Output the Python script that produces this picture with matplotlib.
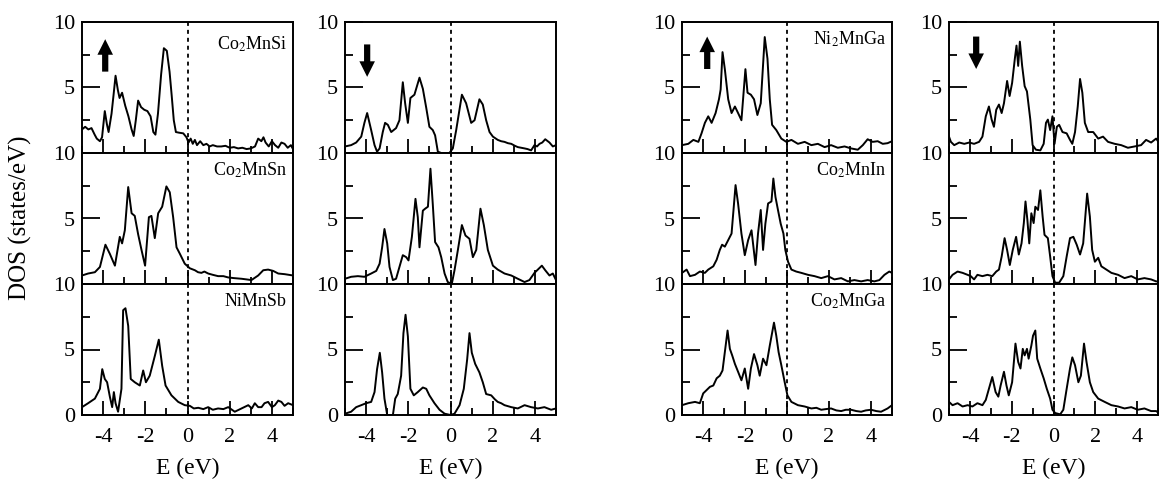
import matplotlib
matplotlib.use("Agg")
import matplotlib.pyplot as plt
from matplotlib.ticker import MultipleLocator
import numpy as np

plt.rcParams["font.family"] = "Liberation Serif"
plt.rcParams["mathtext.fontset"] = "stix"
plt.rcParams["axes.unicode_minus"] = False

# ======================================================
# Spin-resolved DOS, pairs of (E [eV], DOS [states/eV])
# ======================================================

# Co2MnSi
co2mnsi_up = [(-5.0, 1.8), (-4.85, 2.0), (-4.7, 1.8), (-4.55, 1.9), (-4.4, 1.4), (-4.3, 1.1),
              (-4.15, 0.9), (-4.05, 1.2), (-3.92, 3.2), (-3.82, 2.2), (-3.74, 1.6), (-3.6, 3.0),
              (-3.5, 4.5), (-3.41, 5.9), (-3.3, 4.8), (-3.22, 4.2), (-3.1, 4.6), (-2.95, 3.6),
              (-2.8, 2.8), (-2.65, 1.8), (-2.55, 1.3), (-2.45, 2.5), (-2.34, 4.0), (-2.2, 3.5),
              (-2.05, 3.3), (-1.9, 3.2), (-1.75, 2.8), (-1.62, 1.6), (-1.52, 1.4), (-1.4, 3.0),
              (-1.25, 6.0), (-1.12, 8.0), (-0.98, 7.8), (-0.85, 6.2), (-0.75, 4.4), (-0.65, 2.5),
              (-0.55, 1.6), (-0.4, 1.55), (-0.2, 1.5), (-0.05, 1.2), (0.05, 0.8), (0.15, 1.1),
              (0.25, 0.7), (0.35, 1.0), (0.45, 0.6), (0.6, 0.9), (0.75, 0.6), (0.9, 0.7),
              (1.05, 0.5), (1.2, 0.6), (1.4, 0.5), (1.6, 0.5), (1.8, 0.55), (2.0, 0.4),
              (2.2, 0.45), (2.4, 0.35), (2.6, 0.4), (2.8, 0.3), (3.0, 0.35), (3.2, 0.5),
              (3.35, 1.1), (3.5, 0.9), (3.6, 1.2), (3.7, 0.8), (3.85, 0.5), (4.0, 0.9),
              (4.15, 0.6), (4.3, 0.4), (4.45, 0.8), (4.6, 0.7), (4.75, 0.4), (4.9, 0.6), (5.0, 0.3)]
co2mnsi_dn = [(-5.0, 0.5), (-4.71, 0.6), (-4.47, 0.8), (-4.23, 1.25), (-4.08, 2.3), (-3.95, 3.05),
              (-3.76, 1.75), (-3.6, 0.6), (-3.48, 0.1), (-3.36, 0.35), (-3.21, 1.6), (-3.1, 2.3),
              (-2.97, 2.15), (-2.81, 1.6), (-2.58, 1.9), (-2.42, 2.5), (-2.26, 5.4), (-2.15, 3.8),
              (-2.02, 2.3), (-1.9, 4.2), (-1.71, 4.45), (-1.47, 5.75), (-1.31, 4.9), (-1.15, 3.45),
              (-1.0, 2.0), (-0.84, 1.75), (-0.73, 1.35), (-0.6, 0.1), (-0.44, 0.0), (-0.05, 0.0),
              (0.11, 0.35), (0.27, 1.75), (0.54, 4.45), (0.74, 3.8), (0.98, 2.3), (1.14, 2.5),
              (1.37, 4.1), (1.53, 3.7), (1.69, 2.5), (1.85, 1.6), (2.01, 1.25), (2.24, 1.0),
              (2.4, 0.9), (2.56, 0.85), (2.72, 0.75), (2.88, 0.7), (3.05, 0.55), (3.19, 0.45),
              (3.35, 0.4), (3.51, 0.35), (3.65, 0.3), (3.82, 0.2), (3.98, 0.6), (4.1, 0.5),
              (4.22, 0.7), (4.35, 0.8), (4.49, 1.05), (4.69, 0.8), (4.85, 0.5), (5.0, 0.6)]

# Co2MnSn
co2mnsn_up = [(-5.0, 0.65), (-4.71, 0.8), (-4.39, 0.9), (-4.15, 1.3), (-3.89, 3.0), (-3.68, 2.3),
              (-3.44, 1.4), (-3.21, 3.6), (-3.1, 3.1), (-2.97, 4.1), (-2.81, 7.4), (-2.65, 5.4),
              (-2.5, 5.2), (-2.34, 3.8), (-2.18, 2.6), (-2.01, 1.4), (-1.83, 5.1), (-1.71, 5.2),
              (-1.55, 3.5), (-1.39, 5.4), (-1.2, 5.9), (-1.0, 7.45), (-0.84, 7.0), (-0.68, 5.1),
              (-0.52, 2.8), (-0.36, 2.3), (-0.13, 1.55), (0.11, 1.2), (0.35, 1.05), (0.5, 0.9),
              (0.66, 0.85), (0.8, 0.95), (0.98, 0.8), (1.2, 0.7), (1.45, 0.6), (1.7, 0.6),
              (1.93, 0.5), (2.2, 0.45), (2.56, 0.4), (2.8, 0.35), (3.03, 0.3), (3.35, 0.65),
              (3.59, 1.05), (3.82, 1.1), (4.06, 1.0), (4.3, 0.8), (4.61, 0.75), (5.0, 0.65)]
co2mnsn_dn = [(-5.0, 0.4), (-4.71, 0.55), (-4.39, 0.6), (-4.08, 0.55), (-3.76, 0.8), (-3.52, 1.0),
              (-3.36, 1.55), (-3.24, 2.8), (-3.13, 4.2), (-3.0, 3.1), (-2.89, 1.3), (-2.73, 0.3),
              (-2.58, 0.4), (-2.42, 1.3), (-2.26, 2.2), (-2.1, 2.05), (-1.99, 1.8), (-1.83, 3.6),
              (-1.66, 6.5), (-1.55, 5.1), (-1.47, 2.8), (-1.31, 5.6), (-1.2, 5.75), (-1.07, 5.9),
              (-0.95, 8.8), (-0.84, 6.1), (-0.73, 3.2), (-0.57, 2.8), (-0.44, 2.05), (-0.28, 0.8),
              (-0.13, 0.15), (0.06, 0.0), (0.19, 1.05), (0.35, 2.6), (0.54, 4.5), (0.71, 3.7),
              (0.9, 3.45), (1.06, 2.05), (1.22, 2.6), (1.42, 5.75), (1.58, 4.5), (1.77, 2.6),
              (2.01, 1.4), (2.24, 1.1), (2.56, 0.8), (2.88, 0.65), (3.19, 0.4), (3.51, 0.15),
              (3.74, 0.3), (3.98, 0.85), (4.33, 1.4), (4.49, 1.05), (4.69, 0.65), (4.85, 0.8),
              (5.0, 0.3)]

# NiMnSb
nimnsb_up = [(-5.0, 0.6), (-4.71, 0.9), (-4.39, 1.25), (-4.15, 2.0), (-4.04, 3.5), (-3.92, 2.75),
             (-3.81, 2.5), (-3.68, 1.4), (-3.57, 0.6), (-3.49, 1.75), (-3.41, 0.9), (-3.29, 0.25),
             (-3.13, 2.0), (-3.05, 8.0), (-2.94, 8.15), (-2.81, 6.8), (-2.69, 2.75), (-2.5, 2.5),
             (-2.26, 2.25), (-2.1, 3.4), (-1.97, 2.5), (-1.79, 3.0), (-1.55, 4.5), (-1.36, 5.75),
             (-1.2, 3.75), (-1.04, 2.25), (-0.76, 1.5), (-0.44, 1.0), (-0.13, 0.75), (0.11, 0.7),
             (0.3, 0.5), (0.51, 0.55), (0.75, 0.45), (0.98, 0.6), (1.2, 0.4), (1.45, 0.5),
             (1.7, 0.45), (1.93, 0.6), (2.24, 0.25), (2.56, 0.5), (2.88, 0.75), (3.05, 0.5),
             (3.19, 0.9), (3.35, 0.6), (3.51, 0.6), (3.65, 0.9), (3.82, 1.0), (4.0, 0.6),
             (4.14, 0.75), (4.3, 1.1), (4.45, 1.0), (4.6, 0.7), (4.77, 0.9), (5.0, 0.75)]
nimnsb_dn = [(-5.0, 0.1), (-4.71, 0.25), (-4.47, 0.6), (-4.23, 0.75), (-4.0, 0.9), (-3.76, 1.0),
             (-3.6, 1.75), (-3.48, 3.5), (-3.35, 4.75), (-3.24, 3.25), (-3.13, 1.25), (-3.0, 0.0),
             (-2.73, 0.0), (-2.62, 1.25), (-2.5, 1.6), (-2.34, 3.0), (-2.23, 6.25), (-2.13, 7.65),
             (-2.02, 6.0), (-1.9, 2.0), (-1.74, 1.5), (-1.55, 1.75), (-1.31, 2.1), (-1.15, 2.0),
             (-1.0, 1.5), (-0.76, 0.9), (-0.52, 0.4), (-0.28, 0.1), (0.0, 0.0), (0.19, 0.1),
             (0.43, 0.75), (0.63, 2.0), (0.79, 4.25), (0.9, 6.25), (1.01, 4.75), (1.17, 3.9),
             (1.37, 3.25), (1.53, 2.5), (1.69, 1.6), (1.93, 1.5), (2.1, 1.2), (2.24, 1.0),
             (2.4, 0.9), (2.56, 0.75), (2.88, 0.6), (3.19, 0.5), (3.51, 0.75), (3.82, 0.6),
             (4.14, 0.5), (4.45, 0.6), (4.77, 0.4), (5.0, 0.5)]

# Ni2MnGa
ni2mnga_up = [(-5.0, 0.6), (-4.7, 0.7), (-4.46, 1.0), (-4.22, 0.85), (-4.07, 1.5), (-3.91, 2.3),
              (-3.75, 2.8), (-3.59, 2.3), (-3.4, 3.05), (-3.24, 4.1), (-3.16, 4.85), (-3.07, 7.7),
              (-2.96, 6.4), (-2.8, 4.1), (-2.64, 3.05), (-2.48, 3.55), (-2.33, 3.05), (-2.17, 2.5),
              (-1.98, 6.4), (-1.88, 4.6), (-1.72, 4.45), (-1.57, 4.1), (-1.41, 2.9), (-1.25, 3.8),
              (-1.06, 8.85), (-0.93, 7.2), (-0.82, 4.1), (-0.71, 2.15), (-0.51, 1.75), (-0.27, 1.1),
              (-0.03, 0.85), (0.21, 1.0), (0.52, 0.7), (0.84, 0.85), (1.16, 0.6), (1.47, 0.7),
              (1.79, 0.45), (2.1, 0.6), (2.42, 0.4), (2.74, 0.5), (3.05, 0.35), (3.37, 0.25),
              (3.61, 0.6), (3.84, 1.05), (4.08, 0.85), (4.32, 0.9), (4.56, 0.7), (4.79, 0.75),
              (5.0, 0.9)]
ni2mnga_dn = [(-5.0, 1.25), (-4.91, 0.85), (-4.75, 0.6), (-4.51, 0.8), (-4.27, 0.7), (-4.03, 0.8),
              (-3.8, 0.7), (-3.56, 0.85), (-3.4, 1.25), (-3.24, 2.8), (-3.09, 3.55), (-2.96, 2.55),
              (-2.85, 2.0), (-2.74, 3.3), (-2.61, 3.7), (-2.48, 3.05), (-2.37, 3.8), (-2.22, 5.5),
              (-2.1, 4.35), (-1.98, 5.35), (-1.85, 7.2), (-1.77, 8.2), (-1.69, 6.65), (-1.61, 8.5),
              (-1.5, 6.65), (-1.38, 5.1), (-1.27, 4.7), (-1.11, 2.55), (-1.0, 0.6), (-0.84, 0.25),
              (-0.63, 0.2), (-0.47, 0.7), (-0.36, 2.3), (-0.27, 2.55), (-0.16, 1.75), (-0.05, 2.8),
              (0.05, 0.7), (0.16, 2.0), (0.27, 2.15), (0.43, 1.6), (0.63, 1.5), (0.79, 1.0),
              (0.9, 0.7), (1.03, 1.6), (1.16, 3.55), (1.27, 5.65), (1.38, 4.6), (1.5, 2.3),
              (1.66, 1.6), (1.9, 1.6), (2.14, 1.1), (2.37, 1.25), (2.61, 0.85), (2.93, 0.7),
              (3.24, 0.6), (3.56, 0.4), (3.88, 0.5), (4.19, 0.6), (4.43, 1.0), (4.67, 0.8),
              (4.91, 1.1), (5.0, 0.9)]

# Co2MnIn
co2mnin_up = [(-5.0, 0.85), (-4.78, 1.1), (-4.62, 0.6), (-4.38, 0.7), (-4.15, 0.95), (-3.91, 0.85),
              (-3.75, 1.1), (-3.51, 1.35), (-3.35, 1.85), (-3.2, 2.6), (-3.09, 3.0), (-2.96, 2.85),
              (-2.8, 3.35), (-2.64, 3.85), (-2.45, 7.55), (-2.33, 6.15), (-2.17, 3.85), (-2.01, 2.2),
              (-1.85, 3.35), (-1.69, 4.1), (-1.5, 1.45), (-1.38, 3.85), (-1.25, 5.65), (-1.14, 2.6),
              (-1.03, 4.6), (-0.9, 6.15), (-0.74, 6.3), (-0.65, 8.05), (-0.55, 6.65), (-0.43, 5.65),
              (-0.3, 4.6), (-0.17, 3.85), (-0.08, 2.6), (0.05, 1.7), (0.21, 1.1), (0.44, 0.95),
              (0.68, 0.85), (1.0, 0.7), (1.31, 0.6), (1.63, 0.45), (1.95, 0.6), (2.26, 0.35),
              (2.58, 0.45), (2.9, 0.2), (3.21, 0.3), (3.53, 0.2), (3.84, 0.3), (4.16, 0.2),
              (4.4, 0.3), (4.64, 0.7), (4.87, 0.95), (5.0, 0.85)]
co2mnin_dn = [(-5.0, 0.35), (-4.83, 0.7), (-4.59, 0.95), (-4.35, 0.85), (-4.11, 0.7), (-3.96, 0.6),
              (-3.8, 0.35), (-3.64, 0.7), (-3.4, 0.6), (-3.16, 0.7), (-2.93, 0.6), (-2.74, 0.95),
              (-2.61, 1.1), (-2.48, 2.1), (-2.34, 3.5), (-2.22, 2.6), (-2.09, 1.45), (-1.95, 2.6),
              (-1.79, 3.6), (-1.66, 2.25), (-1.53, 3.1), (-1.42, 4.65), (-1.34, 6.3), (-1.25, 4.9),
              (-1.16, 3.1), (-1.06, 5.4), (-0.95, 4.65), (-0.87, 5.9), (-0.74, 5.65), (-0.63, 7.15),
              (-0.52, 5.15), (-0.43, 3.75), (-0.27, 3.5), (-0.16, 2.1), (-0.05, 0.6), (0.08, 0.1),
              (0.27, 0.1), (0.47, 0.6), (0.63, 2.1), (0.79, 3.5), (0.95, 3.6), (1.11, 3.0),
              (1.27, 2.25), (1.42, 3.1), (1.61, 6.9), (1.74, 5.15), (1.85, 2.6), (1.98, 1.7),
              (2.14, 2.0), (2.29, 1.35), (2.53, 1.1), (2.77, 0.85), (3.09, 0.7), (3.4, 0.45),
              (3.72, 0.6), (4.03, 0.35), (4.35, 0.45), (4.67, 0.35), (4.91, 0.2), (5.0, 0.2)]

# Co2MnGa
co2mnga_up = [(-5.0, 0.75), (-4.7, 0.9), (-4.38, 1.0), (-4.15, 0.9), (-3.99, 1.65), (-3.83, 1.9),
              (-3.67, 2.15), (-3.51, 2.25), (-3.35, 2.8), (-3.2, 3.0), (-3.07, 3.4), (-2.96, 4.8),
              (-2.83, 6.45), (-2.72, 5.05), (-2.61, 4.55), (-2.48, 3.9), (-2.33, 3.3), (-2.17, 2.65),
              (-2.01, 3.55), (-1.85, 2.0), (-1.72, 3.55), (-1.57, 4.65), (-1.41, 3.8), (-1.3, 3.0),
              (-1.14, 4.3), (-0.98, 3.8), (-0.82, 5.3), (-0.62, 7.05), (-0.51, 6.05), (-0.4, 4.8),
              (-0.27, 3.8), (-0.11, 2.5), (0.02, 1.5), (0.21, 1.0), (0.52, 0.75), (0.84, 0.65),
              (1.16, 0.5), (1.4, 0.55), (1.63, 0.4), (1.85, 0.45), (2.1, 0.5), (2.35, 0.35),
              (2.58, 0.3), (2.8, 0.4), (3.05, 0.4), (3.3, 0.3), (3.53, 0.25), (3.75, 0.35),
              (4.0, 0.4), (4.25, 0.3), (4.48, 0.25), (4.79, 0.5), (5.0, 0.75)]
co2mnga_dn = [(-5.0, 1.0), (-4.83, 0.75), (-4.59, 0.9), (-4.35, 0.65), (-4.11, 0.75), (-3.88, 0.65),
              (-3.64, 0.9), (-3.4, 0.75), (-3.24, 1.15), (-3.09, 2.0), (-2.93, 2.9), (-2.77, 1.75),
              (-2.64, 1.4), (-2.53, 2.25), (-2.37, 3.3), (-2.25, 2.25), (-2.14, 1.5), (-1.98, 2.5),
              (-1.82, 5.45), (-1.69, 4.05), (-1.58, 3.55), (-1.47, 5.05), (-1.38, 4.55), (-1.27, 5.05),
              (-1.19, 4.3), (-1.06, 5.3), (-0.98, 6.05), (-0.87, 6.45), (-0.78, 4.3), (-0.63, 3.55),
              (-0.47, 2.8), (-0.32, 2.0), (-0.16, 1.25), (-0.05, 0.4), (0.08, 0.15), (0.32, 0.05),
              (0.47, 0.4), (0.63, 2.0), (0.79, 3.55), (0.9, 4.4), (1.03, 3.8), (1.19, 2.5),
              (1.31, 3.0), (1.46, 5.45), (1.58, 4.05), (1.74, 2.5), (1.9, 1.75), (2.14, 1.25),
              (2.45, 1.0), (2.77, 0.75), (3.09, 0.65), (3.4, 0.5), (3.72, 0.6), (4.03, 0.4),
              (4.35, 0.5), (4.67, 0.3), (4.91, 0.3), (5.0, 0.2)]

compounds = ["Co$_2$MnSi", "Co$_2$MnSn", "NiMnSb", "Ni$_2$MnGa", "Co$_2$MnIn", "Co$_2$MnGa"]
spin_up = [co2mnsi_up, co2mnsn_up, nimnsb_up, ni2mnga_up, co2mnin_up, co2mnga_up]
spin_dn = [co2mnsi_dn, co2mnsn_dn, nimnsb_dn, ni2mnga_dn, co2mnin_dn, co2mnga_dn]

# ======================================================
# Layout (pixels)
# ======================================================
W, H = 1160, 487
col_left = [82, 345, 682, 949]
col_width = [211, 211, 210, 209]
row_top = [22, 153, 284]
row_h = 131
# arrow x position and (tail, head) heights in axes fraction for each column
arrows = [(0.11, 0.60, 0.89), (0.105, 0.85, 0.56), (0.12, 0.62, 0.91), (0.13, 0.91, 0.62)]

fig = plt.figure(figsize=(W / 100, H / 100), dpi=100)


def make_axes(col, row):
    return fig.add_axes([col_left[col] / W, 1 - (row_top[row] + row_h) / H,
                         col_width[col] / W, row_h / H])


def style(ax, bottom):
    ax.set_xlim(-5, 5)
    ax.set_ylim(0, 10)
    ax.xaxis.set_major_locator(MultipleLocator(2))
    ax.xaxis.set_minor_locator(MultipleLocator(1))
    ax.yaxis.set_minor_locator(MultipleLocator(2.5))
    # stacked panels: the "0" of an upper panel sits under the "10" of the one below
    ax.set_yticks([0, 5, 10], ["0" if bottom else "", "5", "10"])
    ax.tick_params(axis="x", which="major", direction="in", length=10, width=1.3,
                   labelsize=16, pad=9, labelbottom=bottom)
    ax.tick_params(axis="x", which="minor", direction="in", length=5, width=1.3)
    ax.tick_params(axis="y", which="major", direction="in", length=13, width=1.3,
                   labelsize=16, pad=5)
    ax.tick_params(axis="y", which="minor", direction="in", length=6, width=1.3)
    for s in ax.spines.values():
        s.set_linewidth(1.4)
    ax.axvline(0, color="k", lw=1.3, ls=(0, (2.2, 2.2)))
    if bottom:
        ax.set_xlabel("E (eV)", fontsize=17, labelpad=8)


for i, name in enumerate(compounds):
    pair, row = divmod(i, 3)
    for k, data in enumerate([spin_up[i], spin_dn[i]]):
        col = 2 * pair + k
        ax = make_axes(col, row)
        e, dos = np.array(data).T
        ax.plot(e, dos, color="k", lw=1.4)
        style(ax, row == 2)
        if k == 0:
            ax.text(0.97, 0.83 if i == 0 else 0.87, name, transform=ax.transAxes,
                    ha="right", va="center", fontsize=13)
        if row == 0:
            x, y0, y1 = arrows[col]
            ax.annotate("", xy=(x, y1), xytext=(x, y0), xycoords="axes fraction",
                        arrowprops=dict(arrowstyle="simple,head_width=0.8,head_length=0.8,tail_width=0.32",
                                        mutation_scale=14, color="k", lw=0))

fig.text(0.018, 0.552, "DOS (states/eV)", rotation=90, ha="center", va="center", fontsize=18)

fig.savefig("out.png", dpi=100)
